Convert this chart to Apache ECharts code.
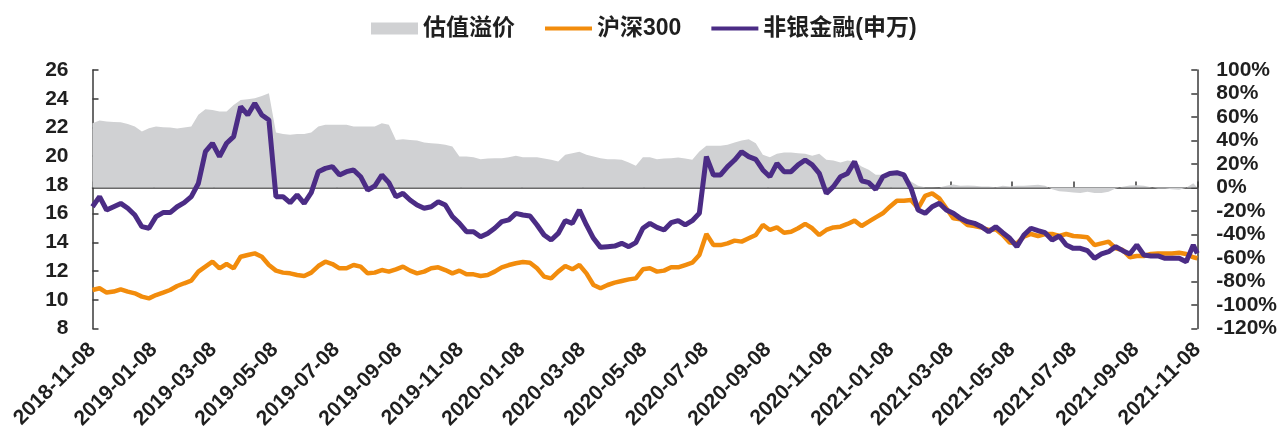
<!DOCTYPE html>
<html>
<head>
<meta charset="utf-8">
<script src="https://cdn.jsdelivr.net/npm/echarts@6/dist/echarts.min.js"></script>
<style>
  html, body { margin: 0; padding: 0; background: #ffffff; }
  #chart { width: 1280px; height: 439px; }
</style>
</head>
<body>
<div id="chart"></div>
<script>
// Date range of the daily axis
const startDate = '2018-11-08';
const endDate = '2021-11-08';

// Weekly readings (one every 7 days from startDate, plus endDate)
// 估值溢价, % (right axis)
const premium = [
  54.7, 57, 56.1, 55.8, 55.5, 54.1, 51.9, 47.6, 50.5, 51.9, 51.3, 51, 50.2, 51, 51.9, 62, 66.6, 66, 64.6, 64.6, 70.3, 74.5, 75.1, 75.9, 77.9, 80.2,
  46.8, 45.6, 44.8, 45.6, 45.6, 46.8, 51.9, 53.3, 53.3, 53.3, 53.3, 51.9, 51.9, 51.9, 51.9, 54.7, 53.3, 40.5, 41.1, 40.5, 40, 38.3, 37.7, 37.2, 36.3, 35,
  26.4, 26.4, 25.8, 24.1, 24.7, 25, 25, 25.8, 27, 25.8, 25.8, 25.8, 24.7, 23.6, 22.1, 27.8, 29.2, 30.4, 27.8, 26.4, 25, 24.1, 24.1, 23.6, 21.3,
  18.5, 25.8, 25.8, 24.1, 24.7, 25, 25.5, 24.7, 23.6, 30.6, 35.5, 35.5, 35.5, 36.3, 38.3, 40, 41.1, 37.7, 27.8, 25.8, 28.7, 29.8, 29.8, 29.2, 28.7, 27,
  28.7, 23.6, 23, 21.3, 23, 22.1, 17.9, 15.1, 10.8, 10.8, 12.2, 14.5, 10.8, 5.2, 1.5, 0.3, 0.3, 0, 1.5, 2.6, 1.5, 1.8, 1.5, 0.9, 0.9,
  0.3, 1.5, 0.9, 1.5, 1.5, 2, 2.3, 1.5, -1.4, -3.1, -3.6, -4.2, -4.7, -3.6, -4.7, -4.7, -3.6, -0.8, 0.6, 1.8, 2, 1.5, 0.3, -0.8, -0.8, -1.4, -1.9, -0.3, 3.7, 0
];

// 沪深300 (left axis)
const hs300 = [
  10.68, 10.80, 10.50, 10.57, 10.73, 10.57, 10.45, 10.22, 10.10, 10.33, 10.50, 10.68, 10.96, 11.15, 11.33, 11.96, 12.31, 12.65, 12.19, 12.49, 12.19, 13.00, 13.12, 13.23, 13.00, 12.42,
  12.03, 11.89, 11.84, 11.73, 11.66, 11.89, 12.35, 12.65, 12.49, 12.19, 12.19, 12.42, 12.31, 11.84, 11.89, 12.07, 11.96, 12.12, 12.31, 12.03, 11.84, 11.96, 12.19, 12.26, 12.07, 11.84,
  12.03, 11.77, 11.77, 11.66, 11.73, 11.96, 12.26, 12.42, 12.54, 12.63, 12.58, 12.19, 11.61, 11.49, 11.96, 12.35, 12.12, 12.42, 11.84, 11.03, 10.80, 11.03, 11.19, 11.31, 11.42,
  11.49, 12.12, 12.19, 11.96, 12.03, 12.26, 12.26, 12.42, 12.58, 13.12, 14.58, 13.81, 13.81, 13.93, 14.12, 14.05, 14.28, 14.51, 15.21, 14.86, 15.04, 14.67, 14.74, 14.98, 15.28, 14.98,
  14.51, 14.86, 15.04, 15.09, 15.28, 15.51, 15.14, 15.44, 15.74, 16.02, 16.48, 16.90, 16.90, 16.95, 16.37, 17.23, 17.41, 17.06, 16.37, 15.67, 15.60, 15.21, 15.14, 15.02, 14.86,
  14.91, 14.51, 13.98, 13.93, 14.40, 14.58, 14.44, 14.58, 14.58, 14.44, 14.58, 14.44, 14.40, 14.35, 13.81, 13.93, 14.05, 13.58, 13.47, 12.96, 13.05, 13.05, 13.19, 13.23, 13.23, 13.23, 13.28, 13.19, 12.96, 12.89
];

// 非银金融(申万) (left axis)
const nonBank = [
  16.48, 17.18, 16.25, 16.48, 16.71, 16.37, 15.90, 15.09, 14.98, 15.79, 16.07, 16.07, 16.48, 16.76, 17.18, 18.1, 20.31, 20.9, 19.97, 20.9, 21.36, 23.45, 22.87, 23.68, 22.87, 22.52,
  17.18, 17.18, 16.76, 17.30, 16.72, 17.46, 18.92, 19.15, 19.27, 18.69, 18.92, 19.04, 18.57, 17.64, 17.92, 18.69, 18.16, 17.18, 17.41, 16.95, 16.60, 16.37, 16.48, 16.83, 16.60, 15.8,
  15.32, 14.74, 14.74, 14.39, 14.62, 14.98, 15.44, 15.56, 16.02, 15.90, 15.83, 15.21, 14.51, 14.16, 14.62, 15.51, 15.32, 16.25, 15.21, 14.28, 13.65, 13.70, 13.74, 13.93, 13.70,
  13.98, 14.98, 15.32, 15.04, 14.86, 15.37, 15.51, 15.21, 15.51, 16.02, 19.97, 18.69, 18.69, 19.27, 19.73, 20.31, 19.97, 19.78, 19.04, 18.57, 19.50, 18.92, 18.92, 19.39, 19.73, 19.39,
  18.80, 17.40, 17.88, 18.57, 18.80, 19.62, 18.29, 18.16, 17.69, 18.57, 18.80, 18.85, 18.69, 17.76, 16.25, 16.02, 16.48, 16.72, 16.25, 16.02, 15.67, 15.44, 15.32, 15.09, 14.74,
  15.09, 14.67, 14.28, 13.70, 14.51, 14.98, 14.81, 14.67, 14.16, 14.44, 13.81, 13.58, 13.58, 13.42, 12.89, 13.19, 13.35, 13.70, 13.42, 13.19, 13.81, 13.12, 13.05, 13.05, 12.89, 12.89, 12.89, 12.65, 13.81, 13.23
];

const seriesNames = ['估值溢价', '沪深300', '非银金融(申万)'];
const colors = { premium: '#d0d1d3', hs300: '#f28c0c', nonBank: '#4b2c85' };

// Every calendar day between the two dates
function buildDays(from, to) {
  const out = [];
  const d = new Date(from + 'T00:00:00Z');
  const end = new Date(to + 'T00:00:00Z');
  while (d <= end) {
    out.push(d.toISOString().slice(0, 10));
    d.setUTCDate(d.getUTCDate() + 1);
  }
  return out;
}
const days = buildDays(startDate, endDate);
const sampleDates = days.filter((d, i) => i % 7 === 0);
sampleDates.push(endDate);

const pairs = (vals) => vals.map((v, i) => [sampleDates[i], v]);

// Labels on the 8th of every other month (Nov, Jan, Mar, ...)
const isLabelDay = (idx, val) => {
  const m = parseInt(val.slice(5, 7), 10);
  return val.slice(8) === '08' && m % 2 === 1;
};

// Legend key for the lines: a 4px bar centred in a 48x12 box
const lineKey = 'path://M0,0h0.01v0.01h-0.01zM0,4h48v4h-48zM47.99,11.99h0.01v0.01h-0.01z';

const fontFamily = '"Liberation Sans", Arial, "Noto Sans CJK SC", sans-serif';
const textColor = '#1f1f1f';
const axisColor = '#3a3a3a';
const tickFont = { fontFamily, fontSize: 21, fontWeight: 'bold', color: textColor };

const chart = echarts.init(document.getElementById('chart'), null, { renderer: 'canvas' });
chart.setOption({
  animation: false,
  backgroundColor: '#ffffff',
  legend: {
    top: 12,
    left: 366,
    itemWidth: 47,
    itemHeight: 12,
    itemGap: 30,
    itemStyle: { borderWidth: 0 },
    textStyle: { fontFamily, fontSize: 23, fontWeight: 'bold', color: textColor, padding: [0, 0, 0, 0] },
    data: [
      { name: seriesNames[0], icon: 'rect', itemStyle: { color: colors.premium } },
      { name: seriesNames[1], icon: lineKey, itemStyle: { color: colors.hs300 } },
      { name: seriesNames[2], icon: lineKey, itemStyle: { color: colors.nonBank } }
    ]
  },
  grid: { left: 92.5, right: 80, top: 70, bottom: 110.5 },
  xAxis: {
    type: 'category',
    data: days,
    boundaryGap: false,
    axisLine: { lineStyle: { color: axisColor, width: 1.5 } },
    axisTick: { inside: true, length: 6, interval: isLabelDay, lineStyle: { color: axisColor, width: 1.5 } },
    axisLabel: Object.assign({ interval: isLabelDay, rotate: 45, margin: 18 }, tickFont),
    splitLine: { show: false }
  },
  yAxis: [
    {
      type: 'value', min: 8, max: 26, interval: 2,
      axisLine: { show: true, lineStyle: { color: axisColor, width: 1.5 } },
      axisTick: { show: true, inside: true, length: 6, lineStyle: { color: axisColor, width: 1.5 } },
      axisLabel: Object.assign({ margin: 24 }, tickFont),
      splitLine: { show: false }
    },
    {
      type: 'value', min: -120, max: 100, interval: 20,
      axisLine: { show: true, lineStyle: { color: axisColor, width: 1.5 } },
      axisTick: { show: true, inside: true, length: 6, lineStyle: { color: axisColor, width: 1.5 } },
      axisLabel: Object.assign({ margin: 19, formatter: '{value}%' }, tickFont),
      splitLine: { show: false }
    }
  ],
  series: [
    {
      name: seriesNames[0], type: 'line', yAxisIndex: 1,
      data: pairs(premium),
      symbol: 'none',
      lineStyle: { width: 0, color: colors.premium },
      itemStyle: { color: colors.premium },
      areaStyle: { color: colors.premium, opacity: 1 },
      z: 1
    },
    {
      name: seriesNames[1], type: 'line', yAxisIndex: 0,
      data: pairs(hs300),
      symbol: 'none',
      lineStyle: { width: 4.5, color: colors.hs300 },
      itemStyle: { color: colors.hs300 },
      z: 2
    },
    {
      name: seriesNames[2], type: 'line', yAxisIndex: 0,
      data: pairs(nonBank),
      symbol: 'none',
      lineStyle: { width: 5, color: colors.nonBank },
      itemStyle: { color: colors.nonBank },
      z: 3
    }
  ]
});
</script>
</body>
</html>
